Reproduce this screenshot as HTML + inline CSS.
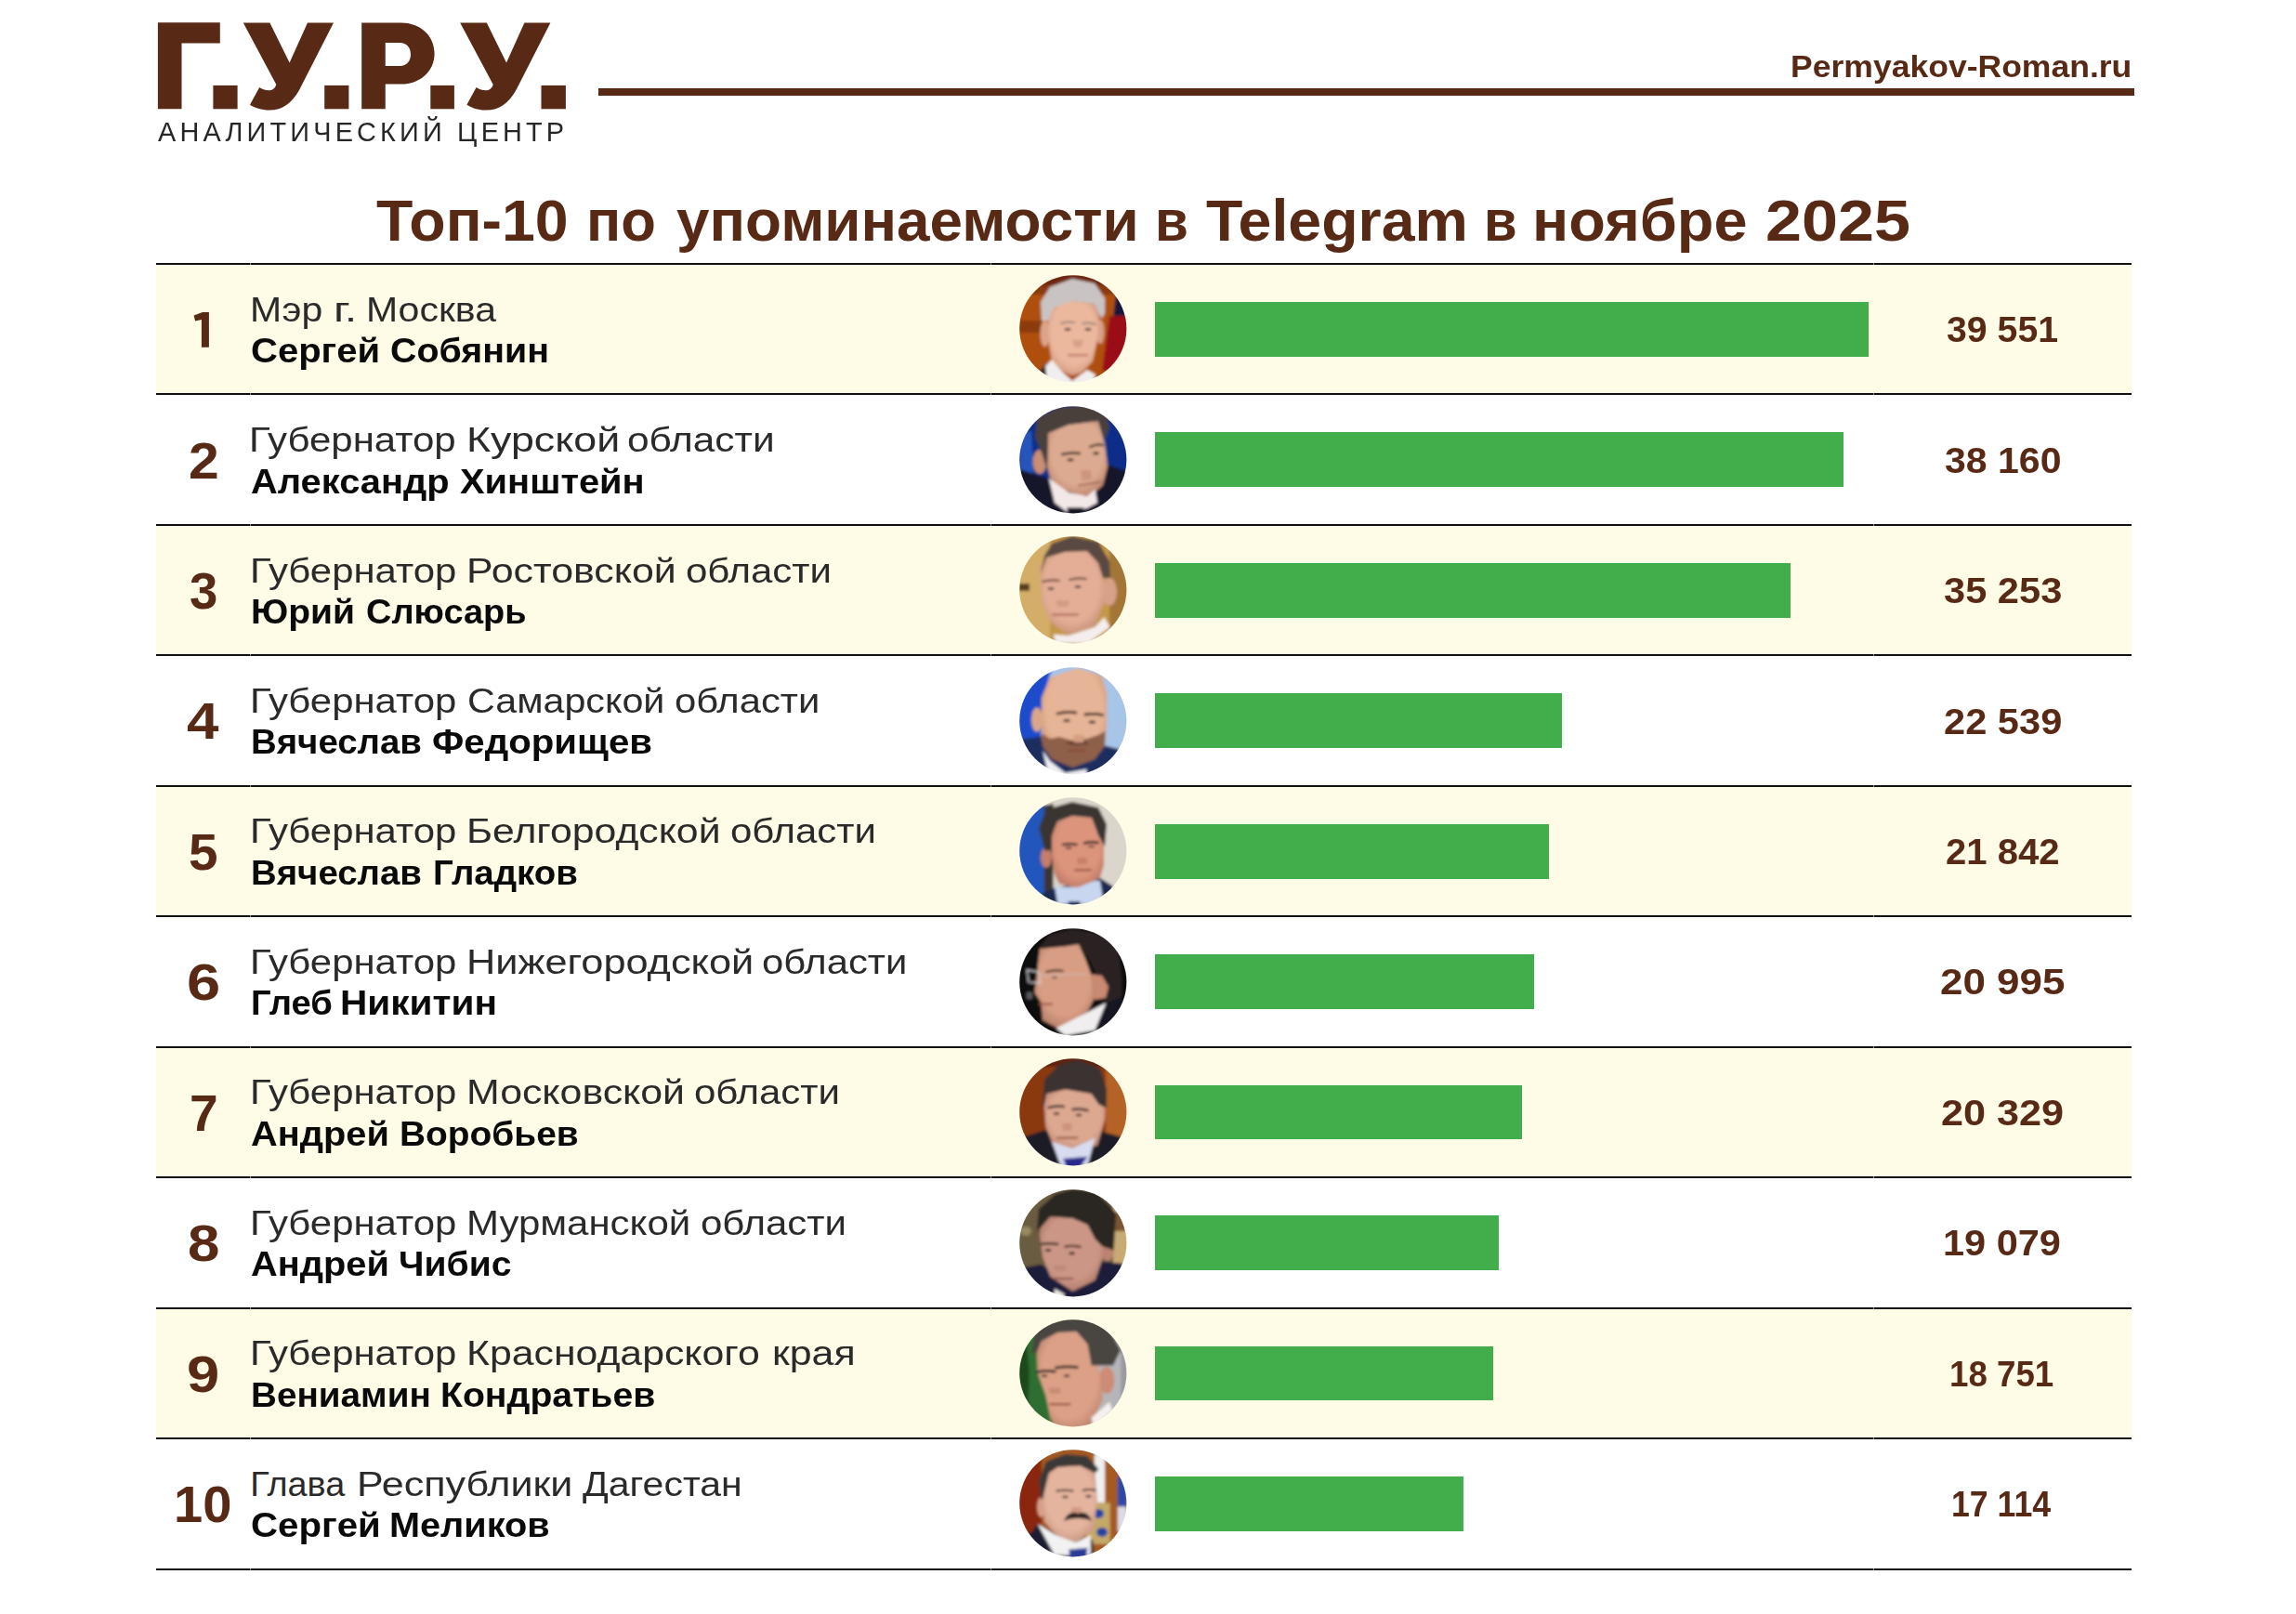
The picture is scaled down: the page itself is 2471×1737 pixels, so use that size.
<!DOCTYPE html>
<html><head><meta charset="utf-8"><style>
html,body{margin:0;padding:0;}
body{width:2471px;height:1737px;background:#fff;position:relative;overflow:hidden;font-family:"Liberation Sans", sans-serif;}
.abs{position:absolute;}
.t{position:absolute;white-space:nowrap;line-height:1;transform-origin:0 0;}
.row{position:absolute;left:168px;width:2126px;}
.ln{position:absolute;left:168px;width:2126px;height:2px;background:#111;}
.bar{position:absolute;left:1243px;height:58.8px;background:#42ad4b;}
</style></head><body>

<svg class="abs" style="left:0;top:0" width="700" height="170" viewBox="0 0 700 170">
<g fill="#582a16">
<path d="M169.9,24.3 L236.8,24.3 L236.8,46.6 L195.5,46.6 L195.5,117.3 L169.9,117.3 Z"/>
<rect x="229.4" y="91.9" width="26.2" height="25.4"/>
<path d="M261.8,24.4 L290.4,24.4 L311.6,67.5 L331,24.4 L359,24.4 L322,97 C314,111 304,118.6 290,118.6 C281,118.6 274,116 269,112.8 L279.2,94.1 C283,96.6 287,97.6 290.5,97.3 C293.5,97 296,95 297.3,91 Z"/>
<rect x="349.2" y="91.9" width="26.2" height="25.4"/>
<path fill-rule="evenodd" d="M389.2,24.4 L431.8,24.4 C452,24.4 467.6,38 467.6,57.5 C467.6,77 452,90.6 431.8,90.6 L414.75,90.6 L414.75,117.2 L389.2,117.2 Z M414.75,46 L430.4,46 C437.5,46 442,51 442,58.4 C442,65.8 437.5,70.9 430.4,70.9 L414.75,70.9 Z"/>
<rect x="463.3" y="91.9" width="25.6" height="25.4"/>
<path transform="translate(233.4,0)" d="M261.8,24.4 L290.4,24.4 L311.6,67.5 L331,24.4 L359,24.4 L322,97 C314,111 304,118.6 290,118.6 C281,118.6 274,116 269,112.8 L279.2,94.1 C283,96.6 287,97.6 290.5,97.3 C293.5,97 296,95 297.3,91 Z"/>
<rect x="582.5" y="91.9" width="26.4" height="25.4"/>
</g></svg>
<div class="abs" style="left:644px;top:95px;width:1653px;height:8px;background:#582a16"></div>
<div class="row" style="top:284.00px;height:140.45px;background:#fefbe7"></div>
<div class="row" style="top:564.90px;height:140.45px;background:#fefbe7"></div>
<div class="row" style="top:845.80px;height:140.45px;background:#fefbe7"></div>
<div class="row" style="top:1126.70px;height:140.45px;background:#fefbe7"></div>
<div class="row" style="top:1407.60px;height:140.45px;background:#fefbe7"></div>
<div class="ln" style="top:283.00px"></div>
<div class="abs" style="left:269px;top:283.00px;width:1px;height:2px;background:#8a8a8a"></div>
<div class="abs" style="left:1066px;top:283.00px;width:1px;height:2px;background:#8a8a8a"></div>
<div class="abs" style="left:2016px;top:283.00px;width:1px;height:2px;background:#8a8a8a"></div>
<div class="ln" style="top:423.45px"></div>
<div class="abs" style="left:269px;top:423.45px;width:1px;height:2px;background:#8a8a8a"></div>
<div class="abs" style="left:1066px;top:423.45px;width:1px;height:2px;background:#8a8a8a"></div>
<div class="abs" style="left:2016px;top:423.45px;width:1px;height:2px;background:#8a8a8a"></div>
<div class="ln" style="top:563.90px"></div>
<div class="abs" style="left:269px;top:563.90px;width:1px;height:2px;background:#8a8a8a"></div>
<div class="abs" style="left:1066px;top:563.90px;width:1px;height:2px;background:#8a8a8a"></div>
<div class="abs" style="left:2016px;top:563.90px;width:1px;height:2px;background:#8a8a8a"></div>
<div class="ln" style="top:704.35px"></div>
<div class="abs" style="left:269px;top:704.35px;width:1px;height:2px;background:#8a8a8a"></div>
<div class="abs" style="left:1066px;top:704.35px;width:1px;height:2px;background:#8a8a8a"></div>
<div class="abs" style="left:2016px;top:704.35px;width:1px;height:2px;background:#8a8a8a"></div>
<div class="ln" style="top:844.80px"></div>
<div class="abs" style="left:269px;top:844.80px;width:1px;height:2px;background:#8a8a8a"></div>
<div class="abs" style="left:1066px;top:844.80px;width:1px;height:2px;background:#8a8a8a"></div>
<div class="abs" style="left:2016px;top:844.80px;width:1px;height:2px;background:#8a8a8a"></div>
<div class="ln" style="top:985.25px"></div>
<div class="abs" style="left:269px;top:985.25px;width:1px;height:2px;background:#8a8a8a"></div>
<div class="abs" style="left:1066px;top:985.25px;width:1px;height:2px;background:#8a8a8a"></div>
<div class="abs" style="left:2016px;top:985.25px;width:1px;height:2px;background:#8a8a8a"></div>
<div class="ln" style="top:1125.70px"></div>
<div class="abs" style="left:269px;top:1125.70px;width:1px;height:2px;background:#8a8a8a"></div>
<div class="abs" style="left:1066px;top:1125.70px;width:1px;height:2px;background:#8a8a8a"></div>
<div class="abs" style="left:2016px;top:1125.70px;width:1px;height:2px;background:#8a8a8a"></div>
<div class="ln" style="top:1266.15px"></div>
<div class="abs" style="left:269px;top:1266.15px;width:1px;height:2px;background:#8a8a8a"></div>
<div class="abs" style="left:1066px;top:1266.15px;width:1px;height:2px;background:#8a8a8a"></div>
<div class="abs" style="left:2016px;top:1266.15px;width:1px;height:2px;background:#8a8a8a"></div>
<div class="ln" style="top:1406.60px"></div>
<div class="abs" style="left:269px;top:1406.60px;width:1px;height:2px;background:#8a8a8a"></div>
<div class="abs" style="left:1066px;top:1406.60px;width:1px;height:2px;background:#8a8a8a"></div>
<div class="abs" style="left:2016px;top:1406.60px;width:1px;height:2px;background:#8a8a8a"></div>
<div class="ln" style="top:1547.05px"></div>
<div class="abs" style="left:269px;top:1547.05px;width:1px;height:2px;background:#8a8a8a"></div>
<div class="abs" style="left:1066px;top:1547.05px;width:1px;height:2px;background:#8a8a8a"></div>
<div class="abs" style="left:2016px;top:1547.05px;width:1px;height:2px;background:#8a8a8a"></div>
<div class="ln" style="top:1687.50px"></div>
<div class="abs" style="left:269px;top:1687.50px;width:1px;height:2px;background:#8a8a8a"></div>
<div class="abs" style="left:1066px;top:1687.50px;width:1px;height:2px;background:#8a8a8a"></div>
<div class="abs" style="left:2016px;top:1687.50px;width:1px;height:2px;background:#8a8a8a"></div>
<div class="bar" style="top:325.00px;width:767.72px"></div>
<div class="bar" style="top:465.45px;width:740.72px"></div>
<div class="bar" style="top:605.90px;width:684.30px"></div>
<div class="bar" style="top:746.35px;width:437.50px"></div>
<div class="bar" style="top:886.80px;width:423.98px"></div>
<div class="bar" style="top:1027.25px;width:407.53px"></div>
<div class="bar" style="top:1167.70px;width:394.61px"></div>
<div class="bar" style="top:1308.15px;width:370.34px"></div>
<div class="bar" style="top:1448.60px;width:363.98px"></div>
<div class="bar" style="top:1589.05px;width:332.20px"></div>
<svg class="abs" style="left:1090px;top:289.40px" width="130" height="130" viewBox="0 0 130 130"><defs><clipPath id="c0"><circle cx="64.8" cy="64.8" r="57.6"/></clipPath><filter id="f0" x="-10%" y="-10%" width="120%" height="120%"><feGaussianBlur stdDeviation="1.6"/></filter></defs><g clip-path="url(#c0)"><g filter="url(#f0)"><radialGradient id="g0" cx="50%" cy="42%" r="60%"><stop offset="0%" stop-color="#ebb89e"/><stop offset="70%" stop-color="#ebb89e"/><stop offset="100%" stop-color="#d29a80"/></radialGradient><rect width="130" height="130" fill="#b0500e"/><rect width="130" height="22" fill="#6e2808"/><rect y="18" width="130" height="10" fill="#8a3a0a"/><rect y="56" width="32" height="13" fill="#8c3a08"/><path d="M111,28 L126,28 L126,52 L108,52 Z" fill="#12123a" /><path d="M104,51 L126,51 L126,112 L96,110 Z" fill="#9a0c14" /><path d="M28,112 L34,104 L42,100 L50,112 L40,122 Z" fill="#2a2a2a" /><ellipse cx="34.5" cy="70" rx="5" ry="14" fill="#dca48a"/><ellipse cx="94" cy="68" rx="4.5" ry="13" fill="#d8a088"/><path d="M38,50 L44,40 L64,35 L88,38 L93,52 L92,72 L86,100 L74,112 L64,115 L52,110 L42,100 L38,76 Z" fill="url(#g0)" /><path d="M31,56 L30,36 L40,20 L64,11 L88,16 L99,32 L99,48 L96,54 L92,48 L88,38 L64,35 L44,42 L38,56 Z" fill="#c9c4c3" /><path d="M52,59 Q59.0,56.5 66,58" stroke="#9a8478" stroke-width="2.0" fill="none" stroke-linecap="round"/><path d="M75,59 Q82.0,57.5 89,60" stroke="#9a8478" stroke-width="2.0" fill="none" stroke-linecap="round"/><ellipse cx="59" cy="65.5" rx="3.5" ry="1.2" fill="#2a1a14"/><ellipse cx="81" cy="65.5" rx="3.5" ry="1.2" fill="#2a1a14"/><path d="M64,77 L76,77 L74,85 L66,85 Z" fill="#d8a086" /><path d="M60,93.2 L80,93.2" stroke="#b57060" stroke-width="2.0" fill="none" stroke-linecap="round"/><path d="M35,105 L42,98 L52,110 L64,121 L80,109 L89,114 L84,130 L38,130 Z" fill="#f0eeee" /></g></g></svg>
<svg class="abs" style="left:1090px;top:429.85px" width="130" height="130" viewBox="0 0 130 130"><defs><clipPath id="c1"><circle cx="64.8" cy="64.8" r="57.6"/></clipPath><filter id="f1" x="-10%" y="-10%" width="120%" height="120%"><feGaussianBlur stdDeviation="1.6"/></filter></defs><g clip-path="url(#c1)"><g filter="url(#f1)"><radialGradient id="g1" cx="50%" cy="42%" r="60%"><stop offset="0%" stop-color="#dcaa90"/><stop offset="70%" stop-color="#dcaa90"/><stop offset="100%" stop-color="#c08870"/></radialGradient><rect width="130" height="130" fill="#0c2d88"/><path d="M7,36 L20,34 L22,80 L8,80 Z" fill="#2656bc" /><path d="M0,78 L10,76 L36,84 L44,121 L0,130 Z" fill="#13142a" /><path d="M102,70 L130,80 L130,130 L88,117 Z" fill="#15172c" /><path d="M0,78 L10.5,76.5 L36.2,84.6 L60,95 L88,95 L102.3,70 L130,80 L130,130 L0,130 Z" fill="#14152a" /><ellipse cx="29" cy="67" rx="7.5" ry="13" fill="#c88e76"/><path d="M38,36 L60,27 L92,23 L99,48 L102,72 L97,92 L84,104 L72,103 L50,96 L40,84 L37,72 Z" fill="url(#g1)" /><path d="M24,40 L26,20 L50,8 L80,6 L100,14 L104,30 L99,44 L92,23 L60,27 L38,36 L37,76 L32,60 Z" fill="#4a403a" /><path d="M53,59 Q62.5,56.5 72,58" stroke="#3a2a22" stroke-width="2.4" fill="none" stroke-linecap="round"/><path d="M83,51 Q90.0,47.5 97,49" stroke="#3a2a22" stroke-width="2.4" fill="none" stroke-linecap="round"/><ellipse cx="62" cy="65" rx="3.5" ry="1.4" fill="#2a1a14"/><ellipse cx="89.5" cy="58" rx="3.25" ry="1.4" fill="#2a1a14"/><path d="M73,76 L84,76 L85,86 L74,87 Z" fill="#cc957c" /><path d="M71,92.5 L95,88.5" stroke="#a86a5a" stroke-width="2.0" fill="none" stroke-linecap="round"/><path d="M38.7,84.6 L45,111 L58,120.8 L80.5,116.8 L91,111 L88.6,96.7 L80,104 L60,100 Z" fill="#f2e8e8" /><path d="M58,116 L75.7,116 L74,124 L60,124 Z" fill="#181828" /></g></g></svg>
<svg class="abs" style="left:1090px;top:570.30px" width="130" height="130" viewBox="0 0 130 130"><defs><clipPath id="c2"><circle cx="64.8" cy="64.8" r="57.6"/></clipPath><filter id="f2" x="-10%" y="-10%" width="120%" height="120%"><feGaussianBlur stdDeviation="1.6"/></filter></defs><g clip-path="url(#c2)"><g filter="url(#f2)"><radialGradient id="g2" cx="50%" cy="42%" r="60%"><stop offset="0%" stop-color="#e4ae96"/><stop offset="70%" stop-color="#e4ae96"/><stop offset="100%" stop-color="#c8907a"/></radialGradient><rect width="130" height="130" fill="#c49848"/><rect width="40" height="130" fill="#d4ae68"/><rect x="104" width="26" height="130" fill="#a47634"/><rect x="6" y="58" width="12" height="8" fill="#5a3a1c"/><ellipse cx="104" cy="67" rx="8" ry="15" fill="#d8a088"/><path d="M29,40 L36,30 L56,24 L80,23 L92,36 L98,52 L98,80 L88,104 L60,113 L42,101 L32,80 Z" fill="url(#g2)" /><path d="M30,48 L34,28 L42,15 L64,7 L92,13 L104,34 L105,52 L97,52 L92,36 L80,23 L56,24 L36,30 Z" fill="#5a4a42" /><path d="M32,56 Q41.0,53.5 50,55" stroke="#6a4a3a" stroke-width="2.2" fill="none" stroke-linecap="round"/><path d="M61,54 Q70.0,51.5 79,53" stroke="#6a4a3a" stroke-width="2.2" fill="none" stroke-linecap="round"/><ellipse cx="41" cy="63.6" rx="3.5" ry="1.3" fill="#3a3030"/><ellipse cx="70" cy="61.5" rx="3.5" ry="1.3" fill="#3a3030"/><path d="M46,76 L61,76 L60,83 L48,83 Z" fill="#d29c84" /><path d="M43,91.5 L70,91.5" stroke="#a86050" stroke-width="2.0" fill="none" stroke-linecap="round"/><path d="M43.5,112.8 L46.7,122 L80.5,122.4 L104.7,104.7 L98.3,94.2 L88.6,104.7 L60,114 Z" fill="#f4eeee" /></g></g></svg>
<svg class="abs" style="left:1090px;top:710.75px" width="130" height="130" viewBox="0 0 130 130"><defs><clipPath id="c3"><circle cx="64.8" cy="64.8" r="57.6"/></clipPath><filter id="f3" x="-10%" y="-10%" width="120%" height="120%"><feGaussianBlur stdDeviation="1.6"/></filter></defs><g clip-path="url(#c3)"><g filter="url(#f3)"><radialGradient id="g3" cx="50%" cy="42%" r="60%"><stop offset="0%" stop-color="#e6b496"/><stop offset="70%" stop-color="#e6b496"/><stop offset="100%" stop-color="#cc9878"/></radialGradient><rect width="130" height="130" fill="#a8c4e6"/><path d="M0,0 L47,0 L40,15 L33,40 L30,80 L32,100 L0,100 Z" fill="#1f4ccc" /><path d="M0,86 L12,84.6 L32.2,81.4 L36,112.8 L40,130 L0,130 Z" fill="#1c2c60" /><path d="M96.7,91 L112.8,95 L120,130 L79.7,130 Z" fill="#1e2e60" /><path d="M0,86 L12,84.6 L32.2,81.4 L50,100 L90,100 L96.7,91 L112.8,95 L130,100 L130,130 L0,130 Z" fill="#1d2d5e" /><ellipse cx="26" cy="63.5" rx="6" ry="13" fill="#daa888"/><path d="M31,40 L40,18 L70,8 L96,16 L101.5,36 L101,72 L99,90 L88,106 L64.4,114.4 L42,104 L31,85 Z" fill="url(#g3)" /><path d="M30.6,78 L40,84 L50,82 L64,86 L80,84 L92,80 L99.5,76 L99,92 L88,106 L64.4,115 L42,106 L32,92 Z" fill="#8e5e48" /><path d="M56,88 L64,86 L78,86 L82,90 L64,91 Z" fill="#6a4232" /><path d="M48,57 Q57.85,54.5 67.7,56" stroke="#3a2620" stroke-width="2.8" fill="none" stroke-linecap="round"/><path d="M78,58 Q87.35,56.5 96.7,58.5" stroke="#3a2620" stroke-width="2.8" fill="none" stroke-linecap="round"/><ellipse cx="58" cy="64.5" rx="3.75" ry="1.6" fill="#2a2020"/><ellipse cx="85.4" cy="66" rx="3.75" ry="1.6" fill="#2a2020"/><path d="M65,80 L77,80 L76,88 L66,88 Z" fill="#d49e82" /><path d="M60,96.7 L77,96.7" stroke="#8a4a3a" stroke-width="2.2" fill="none" stroke-linecap="round"/><path d="M32.2,96.7 L40,108 L56.4,120.8 L79.7,116.8 L78,130 L40,130 Z" fill="#f0f0f4" /></g></g></svg>
<svg class="abs" style="left:1090px;top:851.20px" width="130" height="130" viewBox="0 0 130 130"><defs><clipPath id="c4"><circle cx="64.8" cy="64.8" r="57.6"/></clipPath><filter id="f4" x="-10%" y="-10%" width="120%" height="120%"><feGaussianBlur stdDeviation="1.6"/></filter></defs><g clip-path="url(#c4)"><g filter="url(#f4)"><radialGradient id="g4" cx="50%" cy="42%" r="60%"><stop offset="0%" stop-color="#dc947c"/><stop offset="70%" stop-color="#dc947c"/><stop offset="100%" stop-color="#c07a66"/></radialGradient><rect width="130" height="130" fill="#dbd5cb"/><path d="M0,0 L34,0 L34,130 L0,130 Z" fill="#2456bc" /><path d="M33.8,16 L43.5,14 L43.5,112 L33.8,112 Z" fill="#3a3632" /><path d="M30,112 L37,108 L45,104.7 L94,94 L108,103 L112,130 L24,130 Z" fill="#1f2a50" /><ellipse cx="36" cy="72" rx="6" ry="11" fill="#c47e6a"/><path d="M42,48 L48,33 L64,27 L85,29 L92,48 L98,56 L98,80 L94,93 L80,102 L68.5,104.7 L50,100 L45,90 L42,70 Z" fill="url(#g4)" /><path d="M28,40 L36,20 L64,12 L92,18 L101,36 L99,60 L92,48 L85,29 L64,27 L48,33 L42,48 L40,64 L34.6,64.4 Z" fill="#3a3430" /><path d="M54,58 Q61.25,56.5 68.5,58" stroke="#2a2420" stroke-width="2.6" fill="none" stroke-linecap="round"/><path d="M77,56.5 Q84.4,54.5 91.8,56" stroke="#2a2420" stroke-width="2.6" fill="none" stroke-linecap="round"/><ellipse cx="60" cy="61.5" rx="3.5" ry="1.0" fill="#3a2420"/><ellipse cx="84.6" cy="60" rx="3.5" ry="1.0" fill="#3a2420"/><path d="M69,72 L80,72 L80,79 L70,79 Z" fill="#c8806c" /><path d="M67,85.4 L84,85.4" stroke="#9a5448" stroke-width="2.2" fill="none" stroke-linecap="round"/><path d="M45,103 L48.3,122 L95,122 L98.3,96.7 L88.6,96.7 L70,104 Z" fill="#c8d6f0" /><path d="M93.4,94.2 L108,103 L96.7,114.4 Z" fill="#1f2a50" /><path d="M37,108 L45,104.7 L45,119.2 Z" fill="#1f2a50" /><path d="M59.6,119 L72.5,119 L72,124 L60,124 Z" fill="#1f2a64" /></g></g></svg>
<svg class="abs" style="left:1090px;top:991.65px" width="130" height="130" viewBox="0 0 130 130"><defs><clipPath id="c5"><circle cx="64.8" cy="64.8" r="57.6"/></clipPath><filter id="f5" x="-10%" y="-10%" width="120%" height="120%"><feGaussianBlur stdDeviation="1.6"/></filter></defs><g clip-path="url(#c5)"><g filter="url(#f5)"><radialGradient id="g5" cx="50%" cy="42%" r="60%"><stop offset="0%" stop-color="#d89e84"/><stop offset="70%" stop-color="#d89e84"/><stop offset="100%" stop-color="#b8806a"/></radialGradient><rect width="130" height="130" fill="#0a0808"/><rect x="15" y="76" width="6" height="7" fill="#5a5a5a"/><path d="M28,28 L40,14 L64,8 L100,14 L113,24 L117,60 L117,80 L101,88 L96,70 L82,40 L72,25 L56,26 Z" fill="#2a2420" /><path d="M83.8,56.4 L96,58 L103,70 L100,82 L88,84 Z" fill="#c88a70" /><path d="M29,29 L56.4,26.6 L71,24.2 L78,40 L84,56 L88,82 L80.5,96.7 L60,110 L48.3,114.4 L32,106 L30.6,87 L23.4,76.5 L26.6,50 Z" fill="url(#g5)" /><path d="M15.3,52 L28,54 L30,66 L17,65 Z" stroke="#d0d0d0" stroke-width="1.3" fill="none"/><path d="M30,58 L79,56.4" stroke="#c8c0b8" stroke-width="1.0" fill="none" stroke-linecap="round"/><ellipse cx="45" cy="60" rx="2.75" ry="1.1" fill="#3a2a24"/><path d="M36,54 Q45.0,51.5 54,53" stroke="#3a2a22" stroke-width="2.2" fill="none" stroke-linecap="round"/><path d="M29,88.6 L42,88.6" stroke="#a05a4a" stroke-width="2.4" fill="none" stroke-linecap="round"/><path d="M46.7,114.4 L100.7,87 L88.6,116.8 L56.4,122.4 Z" fill="#f0eeee" /><path d="M88.6,116.8 L100.7,87 L116.8,80.5 L122,96.7 L110,116 Z" fill="#141620" /></g></g></svg>
<svg class="abs" style="left:1090px;top:1132.10px" width="130" height="130" viewBox="0 0 130 130"><defs><clipPath id="c6"><circle cx="64.8" cy="64.8" r="57.6"/></clipPath><filter id="f6" x="-10%" y="-10%" width="120%" height="120%"><feGaussianBlur stdDeviation="1.6"/></filter></defs><g clip-path="url(#c6)"><g filter="url(#f6)"><radialGradient id="g6" cx="50%" cy="42%" r="60%"><stop offset="0%" stop-color="#dca890"/><stop offset="70%" stop-color="#dca890"/><stop offset="100%" stop-color="#c08a74"/></radialGradient><rect width="130" height="130" fill="#8a3810"/><rect x="100" y="0" width="30" height="130" fill="#b46226"/><rect width="130" height="16" fill="#5e2408"/><path d="M0,92 L14.5,91 L33.8,84.6 L45,120.8 L40,130 L0,130 Z" fill="#1a1c26" /><path d="M91,84.6 L114.4,91 L130,100 L130,130 L84.6,130 Z" fill="#1a1c26" /><path d="M0,93 L14.5,91 L33.8,84.6 L50,90 L80,90 L91,84.6 L114.4,91 L130,100 L130,130 L0,130 Z" fill="#1a1c26" /><path d="M33.8,56.4 L36.2,45 L56.4,40.3 L84.6,45 L92.6,56.4 L99.9,56.4 L99,72.5 L91,100.7 L64.4,107 L43.5,100.7 L35.4,80.5 Z" fill="url(#g6)" /><path d="M32,58 L34,30 L50,14 L70,9 L94,18 L101,40 L100.7,60.4 L92.6,56.4 L84.6,45 L56.4,40.3 L36.2,45 L33.8,58 Z" fill="#3a3230" /><path d="M38.7,60 Q46.75,57.5 54.8,59" stroke="#2a2220" stroke-width="2.6" fill="none" stroke-linecap="round"/><path d="M64.4,62 Q72.45,60.5 80.5,63" stroke="#2a2220" stroke-width="2.6" fill="none" stroke-linecap="round"/><ellipse cx="47" cy="66.5" rx="3.25" ry="1.3" fill="#2a1a18"/><ellipse cx="71" cy="68" rx="3.25" ry="1.3" fill="#2a1a18"/><path d="M53,77 L64,77 L63,85 L54,85 Z" fill="#cc947c" /><path d="M48.3,92.6 L69.3,92.6" stroke="#9a5a4a" stroke-width="2.4" fill="none" stroke-linecap="round"/><path d="M42,96.7 L51.5,122.4 L80.5,122.4 L88.6,92.6 L64,104 Z" fill="#d8dcf0" /><path d="M54,115 L80.5,112.8 L72.5,124 L58,124 Z" fill="#2a2c8c" /></g></g></svg>
<svg class="abs" style="left:1090px;top:1272.55px" width="130" height="130" viewBox="0 0 130 130"><defs><clipPath id="c7"><circle cx="64.8" cy="64.8" r="57.6"/></clipPath><filter id="f7" x="-10%" y="-10%" width="120%" height="120%"><feGaussianBlur stdDeviation="1.6"/></filter></defs><g clip-path="url(#c7)"><g filter="url(#f7)"><radialGradient id="g7" cx="50%" cy="42%" r="60%"><stop offset="0%" stop-color="#cc9686"/><stop offset="70%" stop-color="#cc9686"/><stop offset="100%" stop-color="#ae7a6a"/></radialGradient><rect width="130" height="130" fill="#6a5c40"/><rect x="108" width="22" height="130" fill="#c8aa74"/><path d="M108,32 L122,32 L122,52 L108,52 Z" fill="#7a5430" /><ellipse cx="14" cy="52" rx="6" ry="5" fill="#9a8a60"/><path d="M0,91 L13.7,91 L30.6,87.8 L45,112.8 L45,130 L0,130 Z" fill="#1c1e3a" /><path d="M92.6,84.6 L117.6,87 L130,95 L130,130 L80.5,130 L104.7,104.7 Z" fill="#1c1e3a" /><path d="M0,91 L13.7,91 L30.6,87.8 L50,100 L90,100 L92.6,84.6 L117.6,87 L130,95 L130,130 L0,130 Z" fill="#1c1e3a" /><ellipse cx="102" cy="72" rx="7" ry="12" fill="#bc8272"/><path d="M29.8,48.3 L40.3,36.2 L64.4,37.9 L80.5,45 L88.6,60.4 L96.7,68.5 L97,80.5 L88.6,104.7 L64.4,116.8 L40.3,100.7 L32.2,80.5 L29,56.4 Z" fill="url(#g7)" /><path d="M25.8,52 L28,28 L46,12 L64.4,6.4 L90,10 L111,32.2 L108.7,72.5 L96.7,68.5 L88.6,60.4 L80.5,45 L64.4,37.9 L40.3,36.2 L29.8,48.3 Z" fill="#2c2620" /><path d="M30.6,66 Q39.45,64.5 48.3,66" stroke="#3a2a22" stroke-width="2.4" fill="none" stroke-linecap="round"/><path d="M56.4,68.5 Q64.45,67.0 72.5,69" stroke="#3a2a22" stroke-width="2.4" fill="none" stroke-linecap="round"/><ellipse cx="38" cy="72.5" rx="3.25" ry="1.5" fill="#2a1a18"/><ellipse cx="63.6" cy="75.7" rx="3.25" ry="1.5" fill="#2a1a18"/><path d="M43.5,88.6 L58,88.6 L57,95 L45,95 Z" fill="#c28a7a" /><path d="M45.9,103 L64.4,103" stroke="#8a4a40" stroke-width="2.2" fill="none" stroke-linecap="round"/><path d="M45,114 L56,120 L52,126 L45,124 Z" fill="#efeae6" /></g></g></svg>
<svg class="abs" style="left:1090px;top:1413.00px" width="130" height="130" viewBox="0 0 130 130"><defs><clipPath id="c8"><circle cx="64.8" cy="64.8" r="57.6"/></clipPath><filter id="f8" x="-10%" y="-10%" width="120%" height="120%"><feGaussianBlur stdDeviation="1.6"/></filter></defs><g clip-path="url(#c8)"><g filter="url(#f8)"><radialGradient id="g8" cx="50%" cy="42%" r="60%"><stop offset="0%" stop-color="#dca086"/><stop offset="70%" stop-color="#dca086"/><stop offset="100%" stop-color="#bc846c"/></radialGradient><rect width="130" height="130" fill="#b6b6ba"/><rect x="116" width="14" height="130" fill="#9a9aa0"/><path d="M0,0 L36,0 L30,30 L27,64 L38,92 L50,130 L0,130 Z" fill="#2e6e30" /><path d="M0,20 L14,24 L18,64 L16,110 L0,110 Z" fill="#1a4a1c" /><ellipse cx="101" cy="72.5" rx="8.5" ry="14.5" fill="#cc8c74"/><path d="M25.8,40.3 L30.6,30.6 L48.3,21 L68.5,20 L80.5,33.8 L84.6,56.4 L92.6,56.4 L96.7,92.6 L84.6,120.8 L80,130 L50,130 L40.3,112.8 L35.4,88.6 L26.6,64.4 Z" fill="url(#g8)" /><path d="M20,44 L24,18 L44,4 L64.4,2 L100,10 L116,40 L108,56.4 L92.6,56.4 L84.6,56.4 L80.5,33.8 L68.5,20 L48.3,21 L30.6,30.6 L26,42 Z" fill="#4a4440" /><path d="M26.6,63.6 Q35.8,61.5 45,63" stroke="#2a2220" stroke-width="2.8" fill="none" stroke-linecap="round"/><path d="M46.7,59 Q58.0,57.0 69.3,58.5" stroke="#2a2220" stroke-width="2.8" fill="none" stroke-linecap="round"/><ellipse cx="34" cy="67.7" rx="3.25" ry="1.3" fill="#2a1a18"/><ellipse cx="58" cy="67.7" rx="3.25" ry="1.3" fill="#2a1a18"/><path d="M38,80.5 L51.5,80.5 L51,87 L40,87 Z" fill="#c88c74" /><path d="M40.3,98.3 L61.2,98.3" stroke="#9a5a4a" stroke-width="2.4" fill="none" stroke-linecap="round"/><path d="M84.6,112.8 L104,95.8 L107,104.7 L87,122.4 Z" fill="#f4f1ef" /></g></g></svg>
<svg class="abs" style="left:1090px;top:1553.45px" width="130" height="130" viewBox="0 0 130 130"><defs><clipPath id="c9"><circle cx="64.8" cy="64.8" r="57.6"/></clipPath><filter id="f9" x="-10%" y="-10%" width="120%" height="120%"><feGaussianBlur stdDeviation="1.6"/></filter></defs><g clip-path="url(#c9)"><g filter="url(#f9)"><radialGradient id="g9" cx="50%" cy="42%" r="60%"><stop offset="0%" stop-color="#e4b49e"/><stop offset="70%" stop-color="#e4b49e"/><stop offset="100%" stop-color="#c89882"/></radialGradient><rect width="130" height="130" fill="#a45a20"/><rect width="31" height="130" fill="#8a2810"/><path d="M87.8,12 L99,12 L99,64.4 L87.8,64.4 Z" fill="#f0f0f0" /><path d="M112.8,36.2 L122.4,36.2 L122.4,68.5 L112.8,68.5 Z" fill="#2a4aa8" /><path d="M112.8,68.5 L122.4,68.5 L122.4,95 L112.8,95 Z" fill="#dcdce4" /><path d="M79.7,64.4 L104.7,64.4 L104.7,108.7 L79.7,108.7 Z" fill="#c4a868" /><ellipse cx="92" cy="76" rx="6" ry="5" fill="#2444a4"/><ellipse cx="96" cy="96" rx="6" ry="5" fill="#2444a4"/><path d="M0,100 L20.1,96.7 L26.6,87 L45,120.8 L40,130 L0,130 Z" fill="#1a1c30" /><path d="M80.5,104.7 L86,104 L85.4,122 L80,122 Z" fill="#1a1c30" /><path d="M0,100 L20.1,96.7 L26.6,87 L50,100 L80,104 L86,104 L88,130 L0,130 Z" fill="#1a1c30" /><ellipse cx="30.6" cy="69" rx="4.5" ry="11" fill="#d8a088"/><path d="M32.2,56.4 L38.7,32.2 L48.3,25.8 L72.5,24.2 L88.6,32.2 L91,60.4 L87,92.6 L68.5,107 L48.3,100.7 L33.8,84.6 Z" fill="url(#g9)" /><path d="M28.2,40.3 L36,20 L56.4,12 L80,14 L92.6,28.2 L88.6,32.2 L72.5,24.2 L48.3,25.8 L38.7,32.2 L32,60.4 L30.6,60.4 Z" fill="#3a3838" /><path d="M47.5,51.5 Q55.95,50.0 64.4,51.5" stroke="#3a2a22" stroke-width="2.2" fill="none" stroke-linecap="round"/><path d="M75.7,51 Q82.15,49.2 88.6,50.7" stroke="#3a2a22" stroke-width="2.2" fill="none" stroke-linecap="round"/><ellipse cx="56.4" cy="58" rx="3.25" ry="1.2" fill="#2a1a18"/><ellipse cx="81.4" cy="57.2" rx="3.25" ry="1.2" fill="#2a1a18"/><path d="M63,69 L74,69 L74,76 L63,76 Z" fill="#d49a84" /><path d="M55,84 C58,75 66,73 70,76 C75,73 82,75 85,84 C78,80 62,80 55,84 Z" fill="#2a2220"/><path d="M26.6,87 L45,120.8 L83.8,120.8 L83.8,99 L68,107 L48,100 Z" fill="#f2f2f2" /><path d="M60.4,114.4 L80.5,112.8 L79,124 L61.2,124 Z" fill="#2a3a98" /></g></g></svg>
<svg class="abs" style="left:0;top:0" width="260" height="400" viewBox="0 0 260 400"><path fill="#582a16" d="M218,336 L224.9,336 L224.9,373.7 L216.9,373.7 L216.9,344 L210.1,345.6 L208.6,339.6 Z"/></svg>
<div class="t" id="lsub" style="left:170.00px;top:126.46px;font-size:30.4px;letter-spacing:4.386px;font-weight:400;color:#262626;transform:scaleX(0.9500)">АНАЛИТИЧЕСКИЙ ЦЕНТР</div>
<div class="t" id="site" style="left:1926.88px;top:55.05px;font-size:33.6px;letter-spacing:0.000px;font-weight:700;color:#582a16;transform:scaleX(1.0583)">Permyakov-Roman.ru</div>
<div class="t" id="tt0" style="left:405.49px;top:205.98px;font-size:63.8px;letter-spacing:0.000px;font-weight:700;color:#582a16;transform:scaleX(1.0100)">Топ-10</div>
<div class="t" id="tt1" style="left:631.14px;top:205.98px;font-size:63.8px;letter-spacing:0.000px;font-weight:700;color:#582a16;transform:scaleX(0.9662)">по</div>
<div class="t" id="tt2" style="left:728.00px;top:205.98px;font-size:63.8px;letter-spacing:0.000px;font-weight:700;color:#582a16;transform:scaleX(1.0000)">упоминаемости</div>
<div class="t" id="tt3" style="left:1242.84px;top:205.98px;font-size:63.8px;letter-spacing:0.000px;font-weight:700;color:#582a16;transform:scaleX(0.9152)">в</div>
<div class="t" id="tt4" style="left:1297.79px;top:205.98px;font-size:63.8px;letter-spacing:0.000px;font-weight:700;color:#582a16;transform:scaleX(1.0106)">Telegram</div>
<div class="t" id="tt5" style="left:1596.76px;top:205.98px;font-size:63.8px;letter-spacing:0.000px;font-weight:700;color:#582a16;transform:scaleX(0.9091)">в</div>
<div class="t" id="tt6" style="left:1649.23px;top:205.98px;font-size:63.8px;letter-spacing:0.000px;font-weight:700;color:#582a16;transform:scaleX(1.0167)">ноябре</div>
<div class="t" id="tt7" style="left:1899.80px;top:205.98px;font-size:63.8px;letter-spacing:0.000px;font-weight:700;color:#582a16;transform:scaleX(1.0993)">2025</div>
<div class="t" id="sb0_0" style="left:268.95px;top:314.69px;font-size:37.8px;letter-spacing:0.000px;font-weight:400;color:#2a2a2a;transform:scaleX(1.0838)">Мэр</div>
<div class="t" id="sb0_1" style="left:358.84px;top:314.69px;font-size:37.8px;letter-spacing:0.000px;font-weight:400;color:#2a2a2a;transform:scaleX(1.2857)">г.</div>
<div class="t" id="sb0_2" style="left:394.45px;top:314.69px;font-size:37.8px;letter-spacing:0.000px;font-weight:400;color:#2a2a2a;transform:scaleX(1.0849)">Москва</div>
<div class="t" id="nm0_0" style="left:269.91px;top:360.11px;font-size:36.6px;letter-spacing:0.000px;font-weight:700;color:#0a0a0a;transform:scaleX(1.0935)">Сергей</div>
<div class="t" id="nm0_1" style="left:420.42px;top:360.11px;font-size:36.6px;letter-spacing:0.000px;font-weight:700;color:#0a0a0a;transform:scaleX(1.0756)">Собянин</div>
<div class="t" id="vl0" style="left:2094.88px;top:336.19px;font-size:38.4px;letter-spacing:0.000px;font-weight:700;color:#582a16;transform:scaleX(1.0224)">39 551</div>
<div class="t" id="rk1" style="left:202.69px;top:468.59px;font-size:55.7px;letter-spacing:0.000px;font-weight:700;color:#582a16;transform:scaleX(1.0556)">2</div>
<div class="t" id="sb1_0" style="left:268.27px;top:455.14px;font-size:37.8px;letter-spacing:0.000px;font-weight:400;color:#2a2a2a;transform:scaleX(1.1107)">Губернатор</div>
<div class="t" id="sb1_1" style="left:501.85px;top:455.14px;font-size:37.8px;letter-spacing:0.000px;font-weight:400;color:#2a2a2a;transform:scaleX(1.1836)">Курской</div>
<div class="t" id="sb1_2" style="left:674.76px;top:455.14px;font-size:37.8px;letter-spacing:0.000px;font-weight:400;color:#2a2a2a;transform:scaleX(1.1219)">области</div>
<div class="t" id="nm1_0" style="left:269.61px;top:500.56px;font-size:36.6px;letter-spacing:0.000px;font-weight:700;color:#0a0a0a;transform:scaleX(1.0892)">Александр</div>
<div class="t" id="nm1_1" style="left:495.21px;top:500.56px;font-size:36.6px;letter-spacing:0.000px;font-weight:700;color:#0a0a0a;transform:scaleX(1.0899)">Хинштейн</div>
<div class="t" id="vl1" style="left:2092.73px;top:476.64px;font-size:38.4px;letter-spacing:0.000px;font-weight:700;color:#582a16;transform:scaleX(1.0687)">38 160</div>
<div class="t" id="rk2" style="left:203.82px;top:609.04px;font-size:55.7px;letter-spacing:0.000px;font-weight:700;color:#582a16;transform:scaleX(0.9786)">3</div>
<div class="t" id="sb2_0" style="left:268.87px;top:595.59px;font-size:37.8px;letter-spacing:0.000px;font-weight:400;color:#2a2a2a;transform:scaleX(1.1087)">Губернатор</div>
<div class="t" id="sb2_1" style="left:502.20px;top:595.59px;font-size:37.8px;letter-spacing:0.000px;font-weight:400;color:#2a2a2a;transform:scaleX(1.1345)">Ростовской</div>
<div class="t" id="sb2_2" style="left:737.98px;top:595.59px;font-size:37.8px;letter-spacing:0.000px;font-weight:400;color:#2a2a2a;transform:scaleX(1.1109)">области</div>
<div class="t" id="nm2_0" style="left:270.07px;top:641.01px;font-size:36.6px;letter-spacing:0.000px;font-weight:700;color:#0a0a0a;transform:scaleX(1.0663)">Юрий</div>
<div class="t" id="nm2_1" style="left:394.36px;top:641.01px;font-size:36.6px;letter-spacing:0.000px;font-weight:700;color:#0a0a0a;transform:scaleX(1.0372)">Слюсарь</div>
<div class="t" id="vl2" style="left:2091.62px;top:617.09px;font-size:38.4px;letter-spacing:0.000px;font-weight:700;color:#582a16;transform:scaleX(1.0843)">35 253</div>
<div class="t" id="rk3" style="left:200.69px;top:749.49px;font-size:55.7px;letter-spacing:0.000px;font-weight:700;color:#582a16;transform:scaleX(1.1133)">4</div>
<div class="t" id="sb3_0" style="left:268.87px;top:736.04px;font-size:37.8px;letter-spacing:0.000px;font-weight:400;color:#2a2a2a;transform:scaleX(1.1087)">Губернатор</div>
<div class="t" id="sb3_1" style="left:503.42px;top:736.04px;font-size:37.8px;letter-spacing:0.000px;font-weight:400;color:#2a2a2a;transform:scaleX(1.0905)">Самарской</div>
<div class="t" id="sb3_2" style="left:725.79px;top:736.04px;font-size:37.8px;letter-spacing:0.000px;font-weight:400;color:#2a2a2a;transform:scaleX(1.1058)">области</div>
<div class="t" id="nm3_0" style="left:270.10px;top:781.46px;font-size:36.6px;letter-spacing:0.000px;font-weight:700;color:#0a0a0a;transform:scaleX(1.0494)">Вячеслав</div>
<div class="t" id="nm3_1" style="left:465.20px;top:781.46px;font-size:36.6px;letter-spacing:0.000px;font-weight:700;color:#0a0a0a;transform:scaleX(1.0991)">Федорищев</div>
<div class="t" id="vl3" style="left:2091.62px;top:757.54px;font-size:38.4px;letter-spacing:0.000px;font-weight:700;color:#582a16;transform:scaleX(1.0843)">22 539</div>
<div class="t" id="rk4" style="left:202.76px;top:889.94px;font-size:55.7px;letter-spacing:0.000px;font-weight:700;color:#582a16;transform:scaleX(1.0179)">5</div>
<div class="t" id="sb4_0" style="left:268.87px;top:876.49px;font-size:37.8px;letter-spacing:0.000px;font-weight:400;color:#2a2a2a;transform:scaleX(1.1087)">Губернатор</div>
<div class="t" id="sb4_1" style="left:502.21px;top:876.49px;font-size:37.8px;letter-spacing:0.000px;font-weight:400;color:#2a2a2a;transform:scaleX(1.1309)">Белгородской</div>
<div class="t" id="sb4_2" style="left:785.78px;top:876.49px;font-size:37.8px;letter-spacing:0.000px;font-weight:400;color:#2a2a2a;transform:scaleX(1.1095)">области</div>
<div class="t" id="nm4_0" style="left:270.10px;top:921.91px;font-size:36.6px;letter-spacing:0.000px;font-weight:700;color:#0a0a0a;transform:scaleX(1.0494)">Вячеслав</div>
<div class="t" id="nm4_1" style="left:465.80px;top:921.91px;font-size:36.6px;letter-spacing:0.000px;font-weight:700;color:#0a0a0a;transform:scaleX(1.0510)">Гладков</div>
<div class="t" id="vl4" style="left:2094.46px;top:897.99px;font-size:38.4px;letter-spacing:0.000px;font-weight:700;color:#582a16;transform:scaleX(1.0443)">21 842</div>
<div class="t" id="rk5" style="left:200.57px;top:1030.39px;font-size:55.7px;letter-spacing:0.000px;font-weight:700;color:#582a16;transform:scaleX(1.1667)">6</div>
<div class="t" id="sb5_0" style="left:268.87px;top:1016.94px;font-size:37.8px;letter-spacing:0.000px;font-weight:400;color:#2a2a2a;transform:scaleX(1.1087)">Губернатор</div>
<div class="t" id="sb5_1" style="left:502.16px;top:1016.94px;font-size:37.8px;letter-spacing:0.000px;font-weight:400;color:#2a2a2a;transform:scaleX(1.1455)">Нижегородской</div>
<div class="t" id="sb5_2" style="left:820.19px;top:1016.94px;font-size:37.8px;letter-spacing:0.000px;font-weight:400;color:#2a2a2a;transform:scaleX(1.1058)">области</div>
<div class="t" id="nm5_0" style="left:270.11px;top:1062.36px;font-size:36.6px;letter-spacing:0.000px;font-weight:700;color:#0a0a0a;transform:scaleX(1.0432)">Глеб</div>
<div class="t" id="nm5_1" style="left:365.78px;top:1062.36px;font-size:36.6px;letter-spacing:0.000px;font-weight:700;color:#0a0a0a;transform:scaleX(1.1101)">Никитин</div>
<div class="t" id="vl5" style="left:2088.46px;top:1038.44px;font-size:38.4px;letter-spacing:0.000px;font-weight:700;color:#582a16;transform:scaleX(1.1443)">20 995</div>
<div class="t" id="rk6" style="left:203.52px;top:1170.84px;font-size:55.7px;letter-spacing:0.000px;font-weight:700;color:#582a16;transform:scaleX(0.9889)">7</div>
<div class="t" id="sb6_0" style="left:268.87px;top:1157.39px;font-size:37.8px;letter-spacing:0.000px;font-weight:400;color:#2a2a2a;transform:scaleX(1.1087)">Губернатор</div>
<div class="t" id="sb6_1" style="left:502.20px;top:1157.39px;font-size:37.8px;letter-spacing:0.000px;font-weight:400;color:#2a2a2a;transform:scaleX(1.1327)">Московской</div>
<div class="t" id="sb6_2" style="left:746.98px;top:1157.39px;font-size:37.8px;letter-spacing:0.000px;font-weight:400;color:#2a2a2a;transform:scaleX(1.1109)">области</div>
<div class="t" id="nm6_0" style="left:270.21px;top:1202.81px;font-size:36.6px;letter-spacing:0.000px;font-weight:700;color:#0a0a0a;transform:scaleX(1.0873)">Андрей</div>
<div class="t" id="nm6_1" style="left:430.27px;top:1202.81px;font-size:36.6px;letter-spacing:0.000px;font-weight:700;color:#0a0a0a;transform:scaleX(1.0629)">Воробьев</div>
<div class="t" id="vl6" style="left:2089.37px;top:1178.89px;font-size:38.4px;letter-spacing:0.000px;font-weight:700;color:#582a16;transform:scaleX(1.1252)">20 329</div>
<div class="t" id="rk7" style="left:202.18px;top:1311.29px;font-size:55.7px;letter-spacing:0.000px;font-weight:700;color:#582a16;transform:scaleX(1.1111)">8</div>
<div class="t" id="sb7_0" style="left:268.87px;top:1297.84px;font-size:37.8px;letter-spacing:0.000px;font-weight:400;color:#2a2a2a;transform:scaleX(1.1087)">Губернатор</div>
<div class="t" id="sb7_1" style="left:502.27px;top:1297.84px;font-size:37.8px;letter-spacing:0.000px;font-weight:400;color:#2a2a2a;transform:scaleX(1.1099)">Мурманской</div>
<div class="t" id="sb7_2" style="left:754.08px;top:1297.84px;font-size:37.8px;letter-spacing:0.000px;font-weight:400;color:#2a2a2a;transform:scaleX(1.1109)">области</div>
<div class="t" id="nm7_0" style="left:270.21px;top:1343.26px;font-size:36.6px;letter-spacing:0.000px;font-weight:700;color:#0a0a0a;transform:scaleX(1.0873)">Андрей</div>
<div class="t" id="nm7_1" style="left:428.66px;top:1343.26px;font-size:36.6px;letter-spacing:0.000px;font-weight:700;color:#0a0a0a;transform:scaleX(1.0685)">Чибис</div>
<div class="t" id="vl7" style="left:2090.54px;top:1319.34px;font-size:38.4px;letter-spacing:0.000px;font-weight:700;color:#582a16;transform:scaleX(1.0807)">19 079</div>
<div class="t" id="rk8" style="left:201.43px;top:1451.74px;font-size:55.7px;letter-spacing:0.000px;font-weight:700;color:#582a16;transform:scaleX(1.1370)">9</div>
<div class="t" id="sb8_0" style="left:268.87px;top:1438.29px;font-size:37.8px;letter-spacing:0.000px;font-weight:400;color:#2a2a2a;transform:scaleX(1.1087)">Губернатор</div>
<div class="t" id="sb8_1" style="left:502.20px;top:1438.29px;font-size:37.8px;letter-spacing:0.000px;font-weight:400;color:#2a2a2a;transform:scaleX(1.1320)">Краснодарского</div>
<div class="t" id="sb8_2" style="left:830.73px;top:1438.29px;font-size:37.8px;letter-spacing:0.000px;font-weight:400;color:#2a2a2a;transform:scaleX(1.1347)">края</div>
<div class="t" id="nm8_0" style="left:270.09px;top:1483.71px;font-size:36.6px;letter-spacing:0.000px;font-weight:700;color:#0a0a0a;transform:scaleX(1.0570)">Вениамин</div>
<div class="t" id="nm8_1" style="left:474.46px;top:1483.71px;font-size:36.6px;letter-spacing:0.000px;font-weight:700;color:#0a0a0a;transform:scaleX(1.0714)">Кондратьев</div>
<div class="t" id="vl8" style="left:2098.29px;top:1459.79px;font-size:38.4px;letter-spacing:0.000px;font-weight:700;color:#582a16;transform:scaleX(0.9557)">18 751</div>
<div class="t" id="rk9" style="left:186.58px;top:1592.19px;font-size:55.7px;letter-spacing:0.000px;font-weight:700;color:#582a16;transform:scaleX(1.0070)">10</div>
<div class="t" id="sb9_0" style="left:269.20px;top:1578.74px;font-size:37.8px;letter-spacing:0.000px;font-weight:400;color:#2a2a2a;transform:scaleX(1.0000)">Глава</div>
<div class="t" id="sb9_1" style="left:383.88px;top:1578.74px;font-size:37.8px;letter-spacing:0.000px;font-weight:400;color:#2a2a2a;transform:scaleX(1.1387)">Республики</div>
<div class="t" id="sb9_2" style="left:627.40px;top:1578.74px;font-size:37.8px;letter-spacing:0.000px;font-weight:400;color:#2a2a2a;transform:scaleX(1.0846)">Дагестан</div>
<div class="t" id="nm9_0" style="left:270.20px;top:1624.16px;font-size:36.6px;letter-spacing:0.000px;font-weight:700;color:#0a0a0a;transform:scaleX(1.0992)">Сергей</div>
<div class="t" id="nm9_1" style="left:419.03px;top:1624.16px;font-size:36.6px;letter-spacing:0.000px;font-weight:700;color:#0a0a0a;transform:scaleX(1.0846)">Меликов</div>
<div class="t" id="vl9" style="left:2099.74px;top:1600.24px;font-size:38.4px;letter-spacing:0.000px;font-weight:700;color:#582a16;transform:scaleX(0.9292)">17 114</div>
</body></html>
